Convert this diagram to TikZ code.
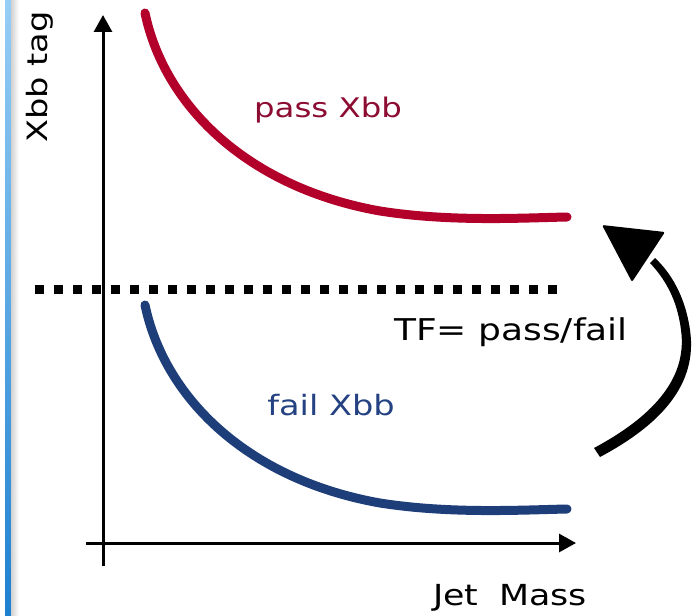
\documentclass[tikz,border=0pt]{standalone}
\usepackage{fontspec}
\setmainfont{DejaVu Sans}[FakeStretch=1.2]
\usetikzlibrary{arrows.meta}
\definecolor{curvered}{RGB}{178,0,42}
\definecolor{textred}{RGB}{140,12,50}
\definecolor{curveblue}{RGB}{30,62,122}
\definecolor{textblue}{RGB}{36,66,130}
\definecolor{barlight}{RGB}{150,206,246}
\definecolor{bardark}{RGB}{30,128,208}
\tikzset{
  axis/.style={line width=3pt,-{Triangle[length=17pt,width=18pt]}},
  curve/.style={line width=9pt,line cap=round},
  lbl/.style={font=\fontsize{28}{32}\selectfont,inner sep=0pt},
}
\begin{document}
\begin{tikzpicture}[x=1pt,y=-1pt]
\useasboundingbox[fill=white] (0,0) rectangle (692,615);
% left strip
\shade[top color=barlight,bottom color=bardark] (5,0) rectangle (11,615);
\shade[left color=black!18,right color=white] (11,0) rectangle (19,615);
% axes
\draw[axis] (103,566) -- (103,15);
\draw[axis] (86,543) -- (576,543);
% dotted separator
\draw[line width=9pt,dash pattern=on 9pt off 10pt] (35,289) -- (562,289);
% curves
\draw[curve,curvered] (145,13) .. controls (165,108) and (250,188) .. (380,211) .. controls (450,222) and (520,218) .. (567,217);
\draw[curve,curveblue] (145,305) .. controls (165,400) and (250,480) .. (380,503) .. controls (450,514) and (520,510) .. (567,509);
% big arrow
\fill[black] (600,457) .. controls (660,425) and (698,385) .. (690,330)
  .. controls (685,295) and (670,272) .. (655,258)
  -- (650,263) .. controls (664,278) and (677,298) .. (681,330)
  .. controls (688,380) and (650,418) .. (594,448) -- cycle;
\fill[black,rounded corners=2pt] (602,225) -- (665,232) -- (632,282) -- cycle;
% labels
\node[lbl,text=textred,font=\fontsize{27}{32}\selectfont] (pass) at (328,110) {pass Xbb};
\node[lbl,text=textblue] (fail) at (331,405) {fail Xbb};
\node[lbl,font=\fontsize{30}{34}\selectfont] (tf) at (511,332) {TF= pass/fail};
\node[lbl,font=\fontsize{29}{34}\selectfont] (mass) at (510,598) {Jet\,\, Mass};
\node[lbl,rotate=90] (tag) at (40,77) {Xbb tag};
\end{tikzpicture}
\end{document}
